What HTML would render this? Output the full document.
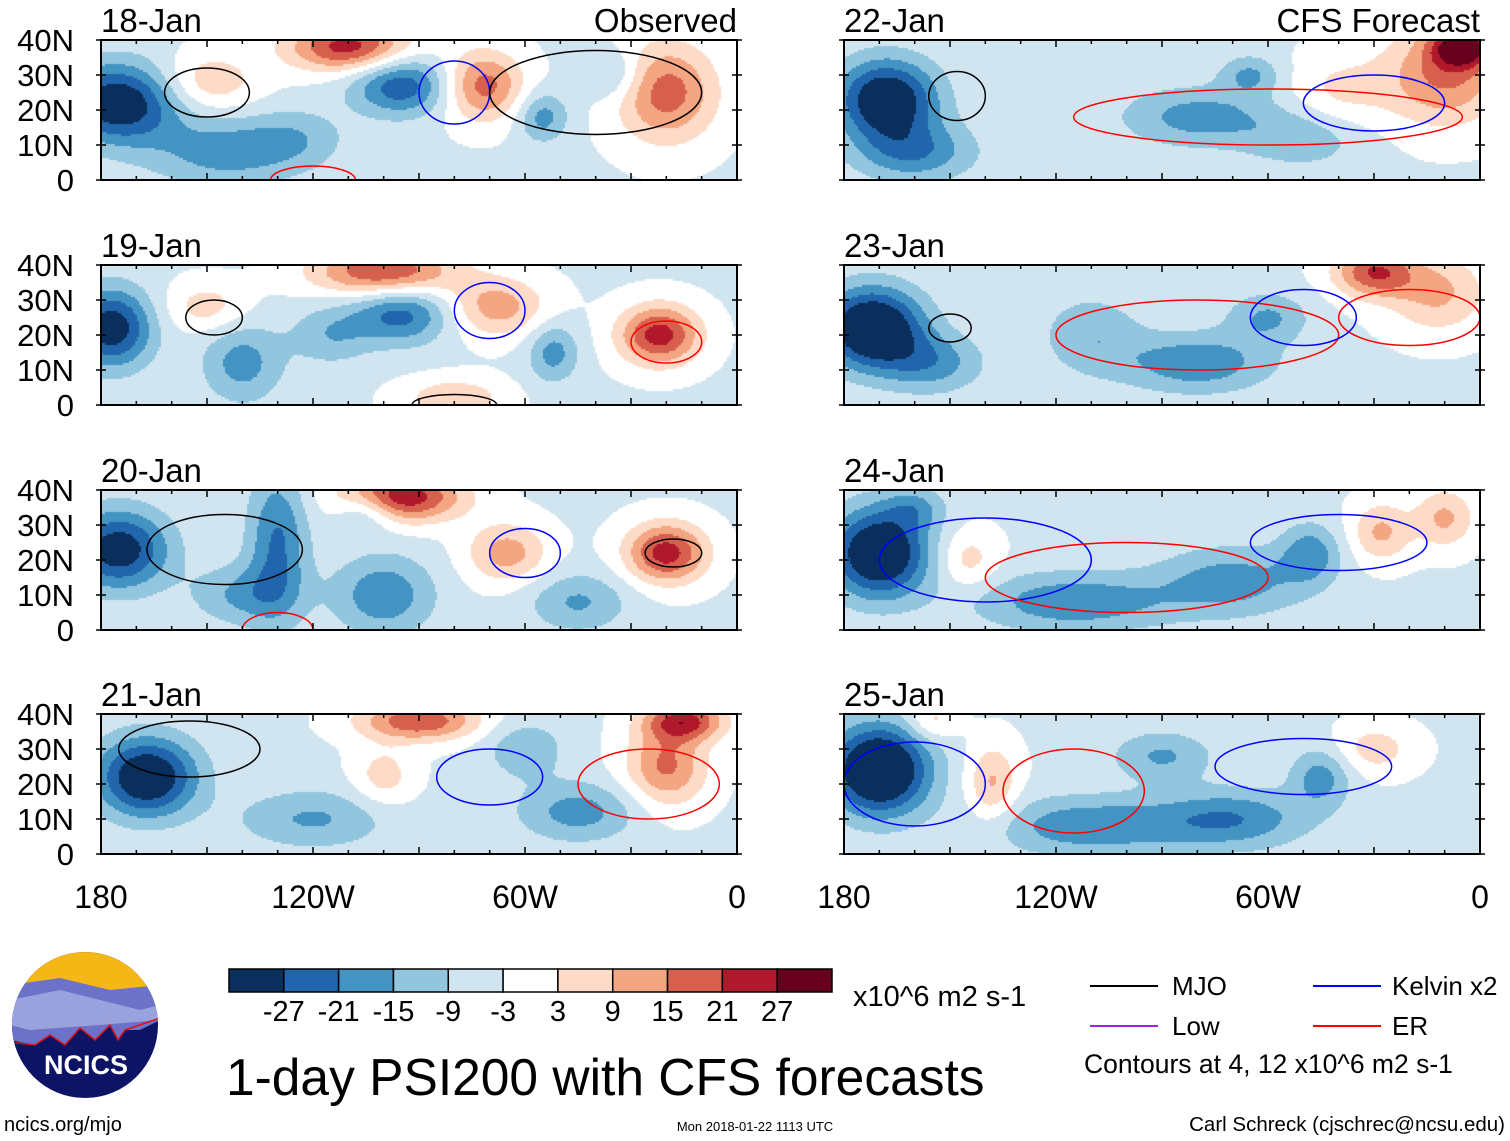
<!DOCTYPE html>
<html><head><meta charset="utf-8"><style>
body{margin:0;background:#fff;width:1510px;height:1141px;overflow:hidden;position:relative;font-family:"Liberation Sans",sans-serif}
canvas,svg{position:absolute;left:0;top:0}
</style></head><body>
<canvas id="fld" width="1510" height="1141"></canvas>
<svg id="ov" width="1510" height="1141" font-family="Liberation Sans, sans-serif">
<g>
<clipPath id="lc"><circle cx="85" cy="1025" r="73"/></clipPath>
<g clip-path="url(#lc)">
<rect x="10" y="950" width="150" height="150" fill="#0d1465"/>
<rect x="10" y="950" width="150" height="40" fill="#f5b715"/>
<path d="M10 985 L60 978 L110 990 L160 985 L160 1020 L140 1030 L125 1030 L118 1040 L110 1025 L95 1040 L80 1028 L65 1045 L50 1035 L35 1045 L10 1040Z" fill="#6c72c8"/>
<path d="M10 1000 L60 990 L100 1000 L140 1010 L160 1005 L160 1020 L100 1025 L30 1030 L10 1025Z" fill="#9aa2de"/>
<path d="M10 1042 L35 1045 L50 1035 L65 1045 L80 1028 L95 1040 L110 1025 L118 1040 L125 1030 L160 1018" fill="none" stroke="#e01010" stroke-width="1.5"/>
</g>
<text x="86" y="1074" font-size="27" font-weight="bold" fill="#fff" text-anchor="middle">NCICS</text>
</g>
<text x="4" y="1131" font-size="20">ncics.org/mjo</text>
<text x="755" y="1131" font-size="13" text-anchor="middle">Mon 2018-01-22 1113 UTC</text>
<text x="1505" y="1131" font-size="20.5" text-anchor="end">Carl Schreck (cjschrec@ncsu.edu)</text>
<text x="226" y="1095" font-size="51.5">1-day PSI200 with CFS forecasts</text>
<g id="cbar"></g>
<text x="853" y="1006" font-size="29">x10^6 m2 s-1</text>
<g>
<line x1="1090" y1="986" x2="1158" y2="986" stroke="#000" stroke-width="2"/><text x="1172" y="995" font-size="26">MJO</text>
<line x1="1090" y1="1026" x2="1158" y2="1026" stroke="#a020f0" stroke-width="2"/><text x="1172" y="1035" font-size="26">Low</text>
<line x1="1313" y1="986" x2="1381" y2="986" stroke="#0000ff" stroke-width="2"/><text x="1392" y="995" font-size="26">Kelvin x2</text>
<line x1="1313" y1="1026" x2="1381" y2="1026" stroke="#ff0000" stroke-width="2"/><text x="1392" y="1035" font-size="26">ER</text>
<text x="1084" y="1073" font-size="26.5">Contours at 4, 12 x10^6 m2 s-1</text>
</g>
<g id="panels"></g>
</svg>
<script>
const levels=[-27,-21,-15,-9,-3,3,9,15,21,27];
const colors=["#0a2f5c","#2166ac","#4393c3","#92c5de","#d1e5f0","#ffffff","#fddbc7","#f4a582","#d6604d","#b2182b","#67001f"];
const panelDates=["18-Jan","19-Jan","20-Jan","21-Jan","22-Jan","23-Jan","24-Jan","25-Jan"];
const baseValue=-3.8;
// blobs: [amplitude, lonW, lat, sigmaLon, sigmaLat]
const blobs18=[[-30,175,22,12,8],[-14,145,8,15,7],[-22,95,27,10,6],[28,110,38,12,5],[12,150,28,10,6],[22,72,27,8,7],[22,20,25,10,10],[-14,55,18,5,5],[-10,35,30,6,5],[-8,125,12,10,6]];
const blobs19=[[-28,177,22,8,8],[-14,140,12,8,8],[-20,95,26,10,6],[26,100,38,14,5],[10,150,28,8,5],[16,68,28,10,6],[28,22,20,8,6],[-14,52,15,5,6],[12,80,2,10,4],[-10,115,20,8,6]];
const blobs20=[[-28,175,23,10,8],[-18,130,25,6,15],[-16,100,10,10,8],[30,95,38,12,5],[-12,105,34,6,4],[16,65,22,8,6],[28,20,22,8,6],[-12,45,8,10,6],[-12,140,10,10,6]];
const blobs21=[[-32,167,22,10,8],[-12,120,10,15,6],[24,90,38,12,4],[10,100,22,6,6],[20,20,25,8,8],[26,15,38,8,4],[-14,45,12,12,6],[-10,60,30,8,6]];
const blobs22=[[-32,168,23,10,8],[-16,160,8,12,6],[-14,80,18,15,6],[-10,50,12,12,6],[20,10,30,12,10],[30,5,38,6,4],[-12,65,30,6,4],[8,40,25,10,8]];
const blobs23=[[-36,172,22,10,8],[-14,155,12,10,6],[-16,80,12,15,6],[-12,60,25,8,5],[14,12,32,10,8],[24,30,38,8,5],[-10,110,20,10,8]];
const blobs24=[[-34,170,22,10,9],[-16,115,8,20,6],[-14,70,14,15,7],[-14,48,22,6,6],[10,145,20,6,6],[14,28,28,6,6],[14,10,32,6,6],[-10,160,35,6,4]];
const blobs25=[[-38,170,24,10,9],[14,138,20,5,8],[-16,110,8,20,6],[-16,70,10,15,6],[-14,45,22,6,6],[10,155,38,5,4],[10,30,30,8,5],[-12,90,28,10,5]];
const allBlobs=[blobs18,blobs19,blobs20,blobs21,blobs22,blobs23,blobs24,blobs25];
// contours: [color, lonW, lat, rLon, rLat]
const cont18=[["k",150,25,12,7],["b",80,25,10,9],["k",40,25,30,12],["r",120,0,12,4]];
const cont19=[["k",148,25,8,5],["b",70,27,10,8],["r",20,18,10,6],["k",80,0,12,3]];
const cont20=[["k",145,23,22,10],["b",60,22,10,7],["k",18,22,8,4],["r",130,0,10,5]];
const cont21=[["k",155,30,20,8],["b",70,22,15,8],["r",25,20,20,10]];
const cont22=[["k",148,24,8,7],["r",60,18,55,8],["b",30,22,20,8]];
const cont23=[["k",150,22,6,4],["r",80,20,40,10],["r",20,25,20,8],["b",50,25,15,8]];
const cont24=[["b",140,20,30,12],["r",100,15,40,10],["b",40,25,25,8]];
const cont25=[["r",115,18,20,12],["b",160,20,20,12],["b",50,25,25,8]];
const allCont=[cont18,cont19,cont20,cont21,cont22,cont23,cont24,cont25];
const cmap={k:"#000",b:"#0000ff",r:"#ff0000",p:"#a020f0"};
const colX=[101,844],rowY=[40,265,490,714],PW=636,PH=140;
function px(col,lon){return colX[col]+(180-lon)/180*PW}
function py(row,lat){return rowY[row]+PH-lat/40*PH}
function colorFor(v){let i=0;while(i<levels.length&&v>=levels[i])i++;return colors[i]}
const ctx=document.getElementById('fld').getContext('2d');
const NS="http://www.w3.org/2000/svg";
const panels=document.getElementById('panels');
function mk(tag,attrs,parent){const e=document.createElementNS(NS,tag);for(const k in attrs)e.setAttribute(k,attrs[k]);parent.appendChild(e);return e}
for(let p=0;p<8;p++){
  const col=p<4?0:1,row=p%4,b=allBlobs[p];
  for(let x=0;x<PW;x+=2)for(let y=0;y<PH;y+=2){
    const lon=180-(x+1)/PW*180,lat=40-(y+1)/PH*40;let v=baseValue;
    for(const q of b){const dx=(lon-q[1])/q[3],dy=(lat-q[2])/q[4];v+=q[0]*Math.exp(-0.5*(dx*dx+dy*dy))}
    ctx.fillStyle=colorFor(v);ctx.fillRect(colX[col]+x,rowY[row]+y,2,2);
  }
  const g=mk('g',{},panels);
  
  
  const cp=mk('clipPath',{id:'cp'+p},g);mk('rect',{x:colX[col],y:rowY[row],width:PW,height:PH},cp);
  const cg=mk('g',{'clip-path':'url(#cp'+p+')'},g);
  for(const c of allCont[p]){
    const e=mk('ellipse',{cx:px(col,c[1]),cy:py(row,c[2]),rx:c[3]/180*PW,ry:c[4]/40*PH,fill:'none',stroke:cmap[c[0]],'stroke-width':1.5},cg);
    
    
  }
  mk('rect',{x:colX[col],y:rowY[row],width:PW,height:PH,fill:'none',stroke:'#000','stroke-width':2},g);
  for(let lon=180;lon>=0;lon-=10){const X=px(col,lon),L=lon%30==0?7:4;
    mk('line',{x1:X,y1:rowY[row],x2:X,y2:rowY[row]+L,stroke:'#000','stroke-width':1.5},g);
    mk('line',{x1:X,y1:rowY[row]+PH,x2:X,y2:rowY[row]+PH-L,stroke:'#000','stroke-width':1.5},g);}
  for(let lat=0;lat<=40;lat+=10){const Y=py(row,lat);
    mk('line',{x1:colX[col]-5,y1:Y,x2:colX[col]+5,y2:Y,stroke:'#000','stroke-width':1.5},g);
    mk('line',{x1:colX[col]+PW-5,y1:Y,x2:colX[col]+PW+5,y2:Y,stroke:'#000','stroke-width':1.5},g);
    if(col==0){const t=mk('text',{x:74,y:Y+11,'font-size':31,'text-anchor':'end'},g);t.textContent=lat==0?'0':lat+'N';}}
  const t=mk('text',{x:colX[col],y:rowY[row]-8,'font-size':33},g);t.textContent=panelDates[p];
  
  
  if(row==0){const t2=mk('text',{x:colX[col]+PW,y:rowY[row]-8,'font-size':33,'text-anchor':'end'},g);t2.textContent=col==0?'Observed':'CFS Forecast';}
  if(row==3){const lab=["180","120W","60W","0"];for(let i=0;i<4;i++){const tt=mk('text',{x:colX[col]+i*PW/3,y:908,'font-size':32,'text-anchor':'middle'},g);tt.textContent=lab[i];}}
}
const cb=document.getElementById('cbar');const bw=603/11;
for(let i=0;i<11;i++){const r=mk('rect',{x:229+i*bw,y:969,width:bw,height:23,fill:colors[i],stroke:'#000','stroke-width':1.5},cb);
  
  }
for(let i=0;i<10;i++){const t=mk('text',{x:229+(i+1)*bw,y:1021,'font-size':29,'text-anchor':'middle'},cb);t.textContent=levels[i];}
</script>
</body></html>
